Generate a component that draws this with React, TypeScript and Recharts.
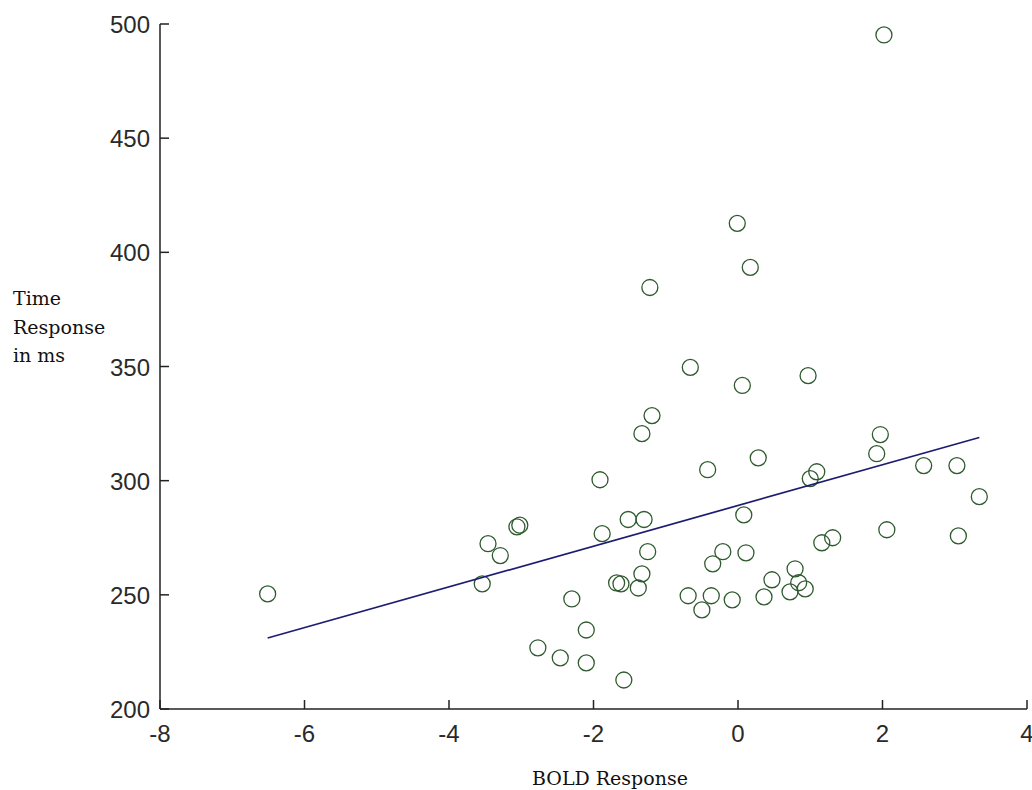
import { ScatterChart, Scatter, XAxis, YAxis, Label } from 'recharts'

// BOLD response vs. reaction time, one circle per trial
const boldValues = [
  -6.51, -3.54, -3.46, -3.29, -3.06, -3.02, -2.77, -2.46, -2.3, -2.1,
  -2.1, -1.91, -1.88, -1.68, -1.62, -1.58, -1.52, -1.38, -1.33, -1.3,
  -1.25, -1.33, -1.19, -1.22, -0.66, -0.69, -0.5, -0.42, -0.37, -0.35,
  -0.21, -0.08, -0.01, 0.06, 0.08, 0.11, 0.17, 0.28, 0.36, 0.47,
  0.72, 0.79, 0.84, 0.93, 0.97, 1.0, 1.09, 1.16, 1.31, 1.92,
  1.97, 2.02, 2.06, 2.57, 3.03, 3.05, 3.34,
]
const timeValues = [
  250.4, 254.8, 272.4, 267.2, 279.8, 280.5, 226.8, 222.4, 248.2, 234.6,
  220.2, 300.4, 276.8, 255.2, 254.8, 212.7, 283, 253, 259.2, 283,
  268.9, 320.6, 328.5, 384.6, 349.6, 249.6, 243.4, 304.8, 249.6, 263.6,
  268.9, 247.8, 412.7, 341.7, 285, 268.4, 393.4, 310, 249.1, 256.6,
  251.3, 261.4, 255.3, 252.6, 346, 300.9, 303.9, 272.8, 275, 311.8,
  320.2, 495.2, 278.5, 306.6, 306.6, 275.8, 293,
]

// least-squares fit drawn across the data range
const fitX = [-6.51, 3.34]
const fitY = [231.1, 318.9]

const xTicks = [-8, -6, -4, -2, 0, 2, 4]
const yTicks = [200, 250, 300, 350, 400, 450, 500]

const points = boldValues.map((x, i) => ({ x, y: timeValues[i] }))
const fitLine = fitX.map((x, i) => ({ x, y: fitY[i] }))

const AXIS = '#222'
const tickFont = { fontFamily: '"Liberation Sans", Arial, sans-serif', fontSize: 24, fill: '#2a2a2a' }
const labelFont = { fontFamily: '"DejaVu Serif", serif', fontSize: 19, fill: '#111' }

const YTick = ({ x, y, payload }: any) => (
  <g>
    <line x1={x} x2={x + 9} y1={y} y2={y} stroke={AXIS} strokeWidth={1.5} />
    <text x={x - 10} y={y} dy={9} textAnchor="end" {...tickFont}>
      {payload.value}
    </text>
  </g>
)

const XTick = ({ x, y, payload }: any) => (
  <g>
    <line x1={x} x2={x} y1={y} y2={y - 9} stroke={AXIS} strokeWidth={1.5} />
    <text x={x} y={y} dy={33} textAnchor="middle" {...tickFont}>
      {payload.value}
    </text>
  </g>
)

const Ring = ({ cx, cy }: any) => (
  <circle cx={cx} cy={cy} r={8} fill="none" stroke="#2f5a2f" strokeWidth={1.3} />
)

const NoDot = () => <g />

export default function App() {
  return (
    <div style={{ position: 'absolute', left: 0, top: 0, background: '#fff' }}>
      <ScatterChart width={1032} height={790} margin={{ top: 24, right: 5, bottom: 0, left: 0 }}>
        <XAxis
          type="number"
          dataKey="x"
          domain={[-8, 4]}
          ticks={xTicks}
          allowDataOverflow
          height={81}
          tickSize={0}
          tickMargin={0}
          tick={<XTick />}
          axisLine={{ stroke: AXIS, strokeWidth: 1.5 }}
        >
          <Label
            content={() => (
              <text x={610} y={785} textAnchor="middle" {...labelFont}>
                BOLD Response
              </text>
            )}
          />
        </XAxis>
        <YAxis
          type="number"
          dataKey="y"
          domain={[200, 500]}
          ticks={yTicks}
          allowDataOverflow
          width={160}
          tickSize={0}
          tickMargin={0}
          tick={<YTick />}
          axisLine={{ stroke: AXIS, strokeWidth: 1.5 }}
        >
          <Label
            content={() => (
              <text x={13} {...labelFont}>
                <tspan x={13} y={305}>Time</tspan>
                <tspan x={13} y={334}>Response</tspan>
                <tspan x={13} y={362}>in ms</tspan>
              </text>
            )}
          />
        </YAxis>
        <Scatter data={points} shape={<Ring />} isAnimationActive={false} />
        <Scatter
          data={fitLine}
          line={{ stroke: '#1c1c72', strokeWidth: 1.7 }}
          shape={<NoDot />}
          isAnimationActive={false}
        />
      </ScatterChart>
    </div>
  )
}
